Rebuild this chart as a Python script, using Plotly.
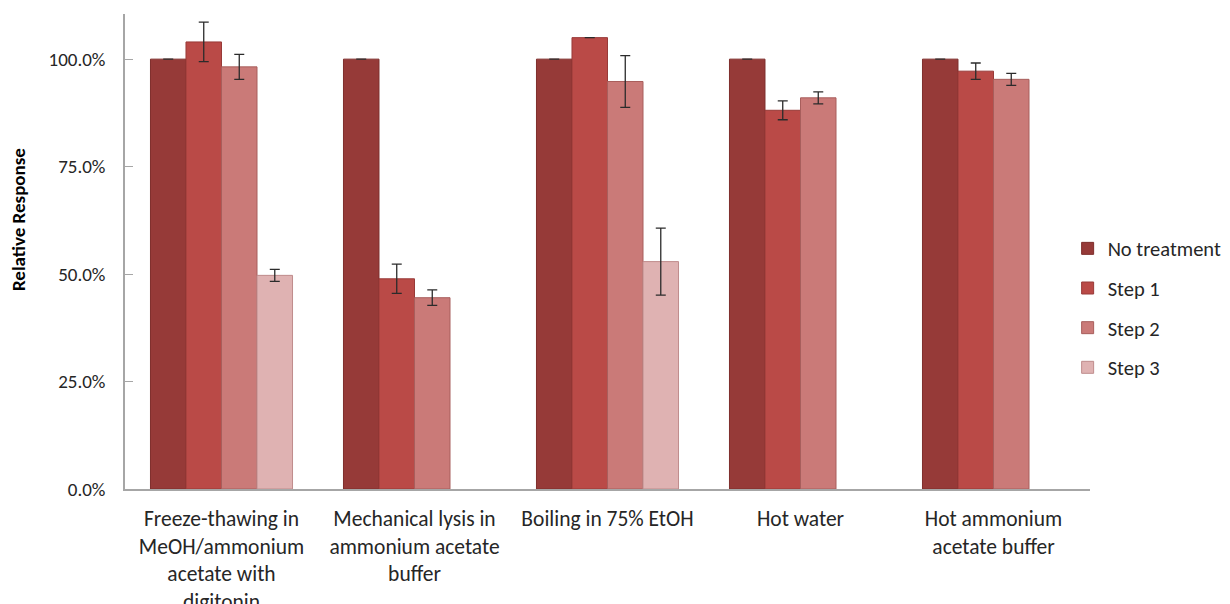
import plotly.graph_objects as go

categories = [
    "Freeze-thawing in<br>MeOH/ammonium<br>acetate with<br>digitonin",
    "Mechanical lysis in<br>ammonium acetate<br>buffer",
    "Boiling in 75% EtOH",
    "Hot water",
    "Hot ammonium<br>acetate buffer",
]

series_names = ["No treatment", "Step 1", "Step 2", "Step 3"]

no_treatment = [100.0, 100.0, 100.0, 100.0, 100.0]
step1 = [104.0, 48.9, 105.0, 88.1, 97.2]
step2 = [98.2, 44.5, 94.8, 91.0, 95.3]
step3 = [49.7, None, 52.9, None, None]

no_treatment_err = [0, 0, 0, 0, 0]
step1_err = [4.6, 3.4, 0, 2.2, 1.9]
step2_err = [2.9, 1.8, 6.0, 1.4, 1.4]
step3_err = [1.4, None, 7.8, None, None]

y_ticks = [0, 25, 50, 75, 100]

fill_colors = ["#963A38", "#BA4A47", "#CA7A78", "#DFB2B2"]
edge_colors = ["#7E2E2C", "#983A38", "#A85E5C", "#BF8C8C"]

values = [no_treatment, step1, step2, step3]
errors = [no_treatment_err, step1_err, step2_err, step3_err]

fig = go.Figure()
for name, vals, errs, fc, ec in zip(series_names, values, errors, fill_colors, edge_colors):
    fig.add_trace(go.Bar(
        name=name,
        legendgroup=name,
        x=categories,
        y=vals,
        marker=dict(color=fc, line=dict(color=ec, width=1)),
        error_y=dict(type="data", array=errs, visible=True,
                     color="#2B2B2B", thickness=1.3, width=5),
    ))

font_family = "Carlito, Calibri, Lato, sans-serif"

fig.update_layout(
    width=1230,
    height=604,
    barmode="group",
    bargap=0.264,
    bargroupgap=0,
    plot_bgcolor="white",
    paper_bgcolor="white",
    margin=dict(l=125, r=140, t=14, b=115, autoexpand=False),
    font=dict(family=font_family, color="#404040", size=15),
    showlegend=True,
    legend=dict(
        xref="container", yref="container",
        x=0.868, y=0.49, xanchor="left", yanchor="middle",
        font=dict(size=20.5, color="#262626"),
        traceorder="grouped",
        tracegroupgap=10,
        itemwidth=30,
        bgcolor="rgba(0,0,0,0)",
    ),
    xaxis=dict(
        automargin=False,
        showline=True, linecolor="#A6A6A6", linewidth=1.5,
        ticks="", showgrid=False,
        tickfont=dict(size=21.5, color="#262626"),
        ticklabelstandoff=9,
    ),
    yaxis=dict(
        automargin=False,
        range=[0, 110.5],
        tickvals=y_ticks,
        ticktext=[f"{v:.1f}%" for v in y_ticks],
        showline=True, linecolor="#A6A6A6", linewidth=1.5,
        ticks="inside", ticklen=8, tickcolor="#A6A6A6",
        ticklabelstandoff=14,
        showgrid=False, zeroline=False,
        tickfont=dict(size=19, color="#262626"),
    ),
    annotations=[dict(
        text="<b>Relative Response</b>",
        textangle=-90,
        xref="paper", yref="paper",
        x=-0.111, y=0.568, xanchor="center", yanchor="middle",
        showarrow=False,
        font=dict(size=19, color="#000000"),
    )],
)

fig.write_html("out.html")
